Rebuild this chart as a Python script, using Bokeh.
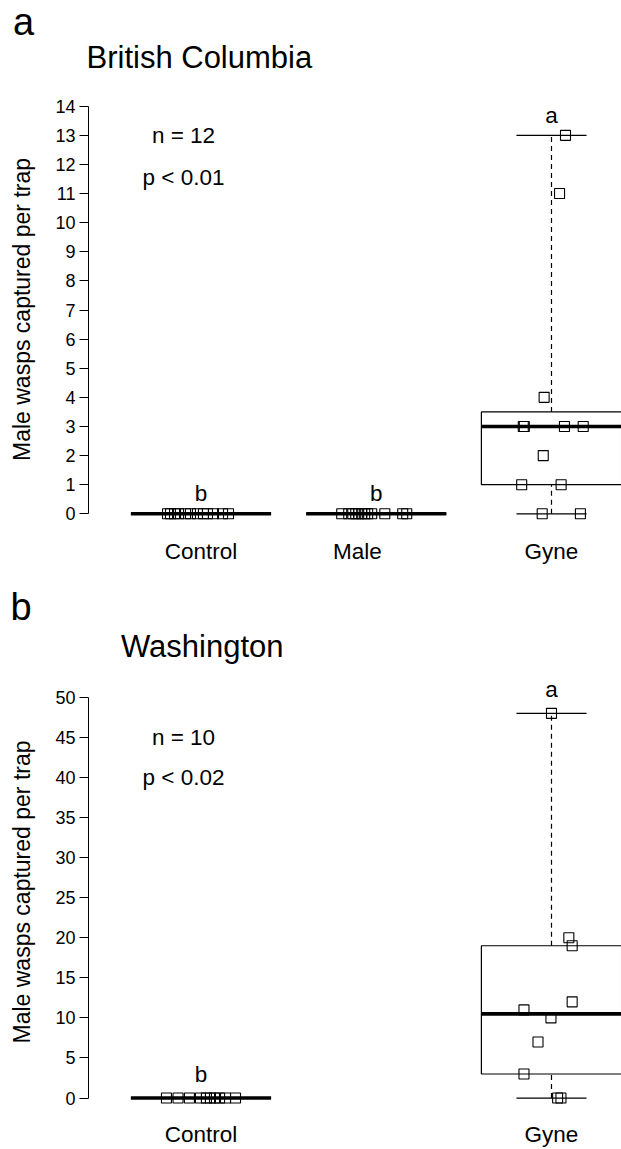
import numpy as np
from bokeh.plotting import figure
from bokeh.models import FixedTicker, Range1d
from bokeh.layouts import column
from bokeh.embed import file_html
from bokeh.resources import INLINE
from bokeh.core.properties import value

FONT = "Liberation Sans"

# ---------------- data: panel a (British Columbia) ----------------
bc_groups = ["Control", "Male", "Gyne"]
bc_group_pos = [1, 2, 3]
bc_label_pos = [1, 1.893, 3]
bc_control = [0, 0, 0, 0, 0, 0, 0, 0, 0, 0, 0, 0]
bc_male = [0, 0, 0, 0, 0, 0, 0, 0, 0, 0, 0, 0]
bc_gyne = [13, 11, 4, 3, 3, 3, 3, 2, 1, 1, 0, 0]
bc_control_jit = [-0.191, -0.174, -0.151, -0.128, -0.088, -0.06, -0.02, 0.014, 0.037, 0.071, 0.123, 0.157]
bc_male_jit = [-0.197, -0.157, -0.134, -0.117, -0.1, -0.083, -0.066, -0.049, -0.026, 0.049, 0.151, 0.174]
bc_gyne_jit = [0.08, 0.046, -0.042, -0.161, -0.155, 0.074, 0.181, -0.047, -0.17, 0.055, -0.053, 0.165]
bc_letters = ["b", "b", "a"]
bc_stats = ["n = 12", "p < 0.01"]
bc_stats_y = [13, 11.55]
bc_yticks = [0, 1, 2, 3, 4, 5, 6, 7, 8, 9, 10, 11, 12, 13, 14]

# ---------------- data: panel b (Washington) ----------------
wa_groups = ["Control", "Gyne"]
wa_group_pos = [1, 3]
wa_label_pos = [1, 3]
wa_control = [0, 0, 0, 0, 0, 0, 0, 0, 0, 0]
wa_gyne = [48, 20, 19, 12, 11, 10, 7, 3, 0, 0]
wa_control_jit = [-0.197, -0.131, -0.066, -0.003, 0.031, 0.054, 0.077, 0.106, 0.14, 0.197]
wa_gyne_jit = [0.0, 0.099, 0.118, 0.118, -0.157, -0.003, -0.077, -0.157, 0.035, 0.054]
wa_letters = ["b", "a"]
wa_stats = ["n = 10", "p < 0.02"]
wa_stats_y = [45, 40]
wa_yticks = [0, 5, 10, 15, 20, 25, 30, 35, 40, 45, 50]

YLABEL = "Male wasps captured per trap"
W = 621


def fivenum(v):
    x = np.sort(np.asarray(v, dtype=float))
    n = len(x)
    n4 = np.floor((n + 3) / 2) / 2
    d = np.array([1, n4, (n + 1) / 2, n + 1 - n4, n]) - 1
    return 0.5 * (x[np.floor(d).astype(int)] + x[np.ceil(d).astype(int)])


def heading(letter, title, letter_xy, title_xy, height):
    """A strip above each panel holding the panel letter and its title (pixel coords)."""
    h = figure(width=W, height=height, output_backend="svg", toolbar_location=None,
               title=None, x_range=Range1d(0, W), y_range=Range1d(height, 0),
               min_border=0, min_border_left=0, min_border_right=0,
               min_border_top=0, min_border_bottom=0,
               x_axis_location=None, y_axis_location=None,
               background_fill_color="white", border_fill_color="white")
    h.frame_align = False
    h.outline_line_color = None
    h.grid.grid_line_color = None
    h.text(x=[letter_xy[0]], y=[letter_xy[1]], text=[letter], text_font=value(FONT),
           text_font_size="38px", text_align="left", text_baseline="middle",
           text_color="black")
    h.text(x=[title_xy[0]], y=[title_xy[1]], text=[title], text_font=value(FONT),
           text_font_size="31px", text_align="left", text_baseline="middle",
           text_color="black")
    return h


def panel(groups, gpos, lpos, series, jits, letters, letter_gap, stats, stats_y,
          yticks, yr, height, mb_bottom, xlab_standoff):
    p = figure(width=W, height=height, output_backend="svg", toolbar_location=None,
               title=None, x_range=Range1d(0.3581, 3.3995), y_range=Range1d(*yr),
               min_border_left=88, min_border_right=0, min_border_top=0,
               min_border_bottom=mb_bottom, background_fill_color="white",
               border_fill_color="white")
    p.frame_align = False
    p.outline_line_color = None
    p.grid.grid_line_color = None

    for g, x0, vals, jit in zip(groups, gpos, series, jits):
        mn, q1, med, q3, mx = fivenum(vals)
        p.quad(left=[x0 - 0.4], right=[x0 + 0.4], bottom=[q1], top=[q3],
               fill_color=None, line_color="black", line_width=1.2)
        p.segment(x0=[x0, x0], y0=[q3, mn], x1=[x0, x0], y1=[mx, q1],
                  line_color="black", line_width=1.2, line_dash="5 4")
        p.segment(x0=[x0 - 0.2, x0 - 0.2], y0=[mx, mn], x1=[x0 + 0.2, x0 + 0.2],
                  y1=[mx, mn], line_color="black", line_width=1.2)
        p.segment(x0=[x0 - 0.4], y0=[med], x1=[x0 + 0.4], y1=[med],
                  line_color="black", line_width=3.6)
        xs = [x0 + j for j in jit]
        p.scatter(x=xs, y=vals, marker="square", size=10, fill_color=None,
                  line_color="black", line_width=1.1)

    tops = [max(v) for v in series]
    p.text(x=gpos, y=[t + letter_gap for t in tops], text=letters,
           text_font=value(FONT), text_font_size="22.5px", text_align="center",
           text_baseline="middle", text_color="black")
    p.text(x=[0.9] * len(stats), y=stats_y, text=stats, text_font=value(FONT),
           text_font_size="22.5px", text_align="center", text_baseline="middle",
           text_color="black")

    ya = p.yaxis[0]
    ya.ticker = FixedTicker(ticks=yticks)
    ya.bounds = (yticks[0], yticks[-1])
    ya.axis_label = YLABEL
    ya.axis_label_text_font = FONT
    ya.axis_label_text_font_size = "23px"
    ya.axis_label_text_font_style = "normal"
    ya.axis_label_text_color = "black"
    ya.axis_label_standoff = 17
    ya.major_label_text_font = FONT
    ya.major_label_text_font_size = "18px"
    ya.major_label_standoff = 4
    ya.major_tick_out = 9
    ya.major_tick_in = 0
    ya.minor_tick_line_color = None
    ya.axis_line_color = "black"
    ya.major_tick_line_color = "black"
    ya.major_label_text_color = "black"

    xa = p.xaxis[0]
    xa.ticker = FixedTicker(ticks=lpos)
    xa.major_label_overrides = {k: g for k, g in zip(lpos, groups)}
    xa.axis_line_color = None
    xa.major_tick_line_color = None
    xa.minor_tick_line_color = None
    xa.major_label_text_font = FONT
    xa.major_label_text_font_size = "22.5px"
    xa.major_label_standoff = xlab_standoff
    xa.major_label_text_color = "black"
    return p


h1 = heading("a", "British Columbia", (12.5, 21.5), (86, 57.3), 89)
p1 = panel(bc_groups, bc_group_pos, bc_label_pos, [bc_control, bc_male, bc_gyne],
           [bc_control_jit, bc_male_jit, bc_gyne_jit], bc_letters, 0.69,
           bc_stats, bc_stats_y, bc_yticks, (-0.539, 14.574), 486, 46, 3)
h2 = heading("b", "Washington", (10, 31.1), (120.5, 71.3), 95)
p2 = panel(wa_groups, wa_group_pos, wa_label_pos, [wa_control, wa_gyne],
           [wa_control_jit, wa_gyne_jit], wa_letters, 2.97,
           wa_stats, wa_stats_y, wa_yticks, (-1.93, 53.35), 479, 29, 2)

layout = column(h1, p1, h2, p2, spacing=0)
open("out.html", "w").write(file_html(layout, INLINE))
